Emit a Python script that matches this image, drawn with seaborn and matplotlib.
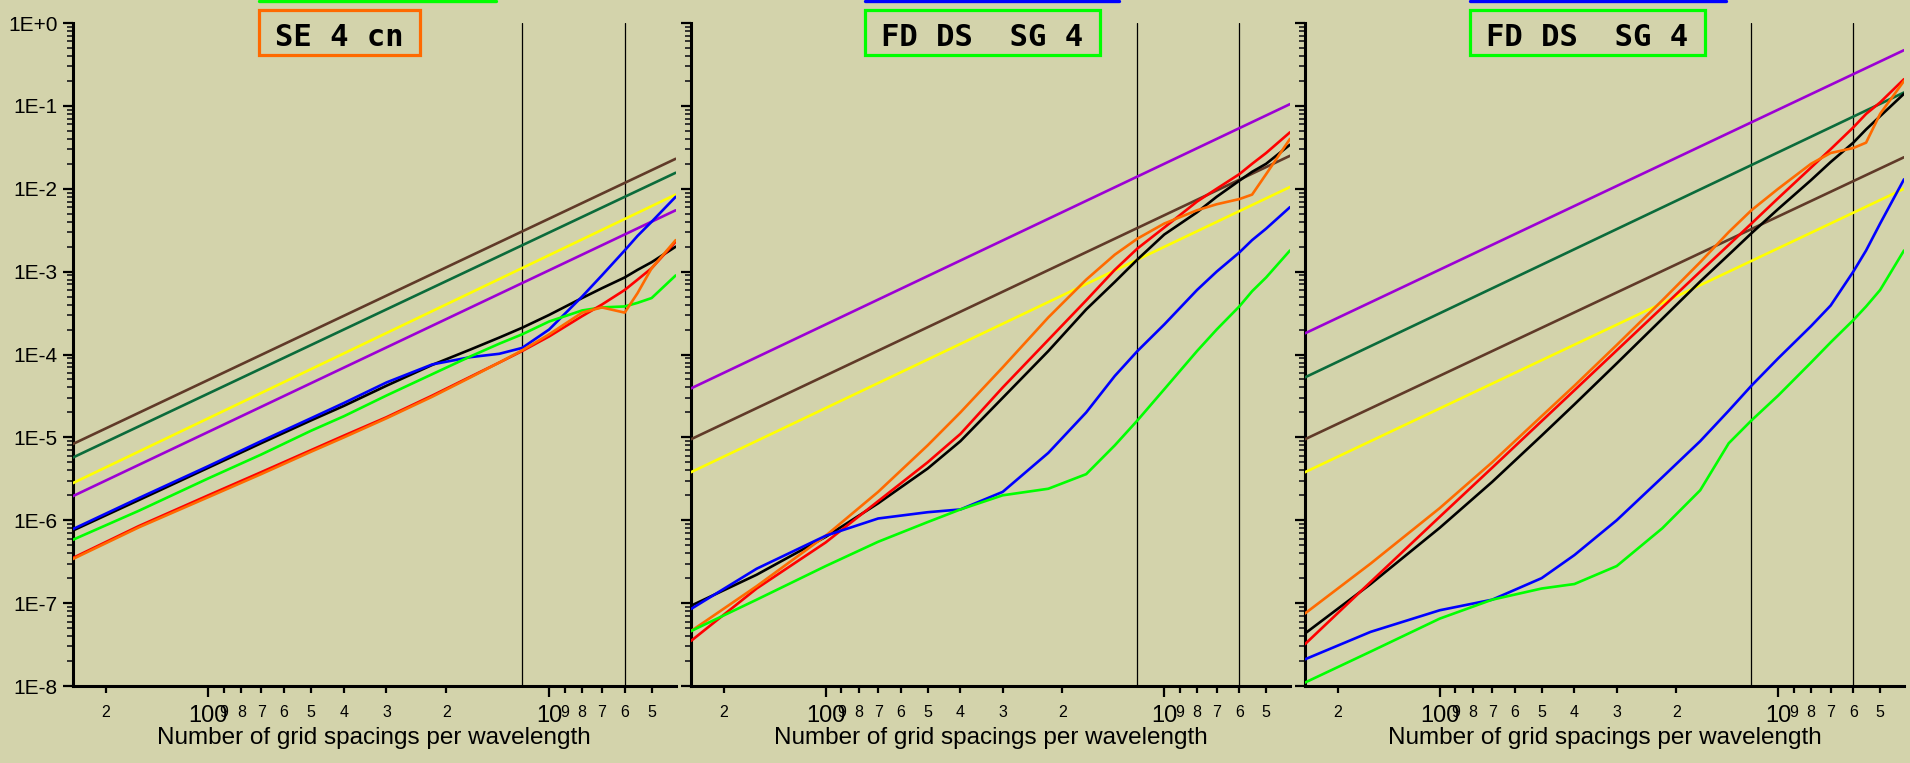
import matplotlib
matplotlib.use("Agg")
import matplotlib.pyplot as plt
from matplotlib.lines import Line2D
from matplotlib.patches import Rectangle
from matplotlib.ticker import FixedLocator, FixedFormatter, LogLocator, NullFormatter
import pandas as pd
import seaborn as sns

sns.set_style("ticks")
plt.rcParams["font.family"] = ["Liberation Sans", "DejaVu Sans"]

BG = "#D3D3AB"

# grid spacings per wavelength at which the curved error series are sampled
N_CURVE = [250, 160, 100, 70, 50, 40, 30, 22, 17, 14, 12, 10, 8, 7, 6, 5.5, 5, 4.25]
# end points of the straight (power-law) series
N_EDGE = [250, 4.25]

# ---- panel 1: SE 4 cn ----
p1_brown = [8.3e-6, 2.3e-2]
p1_dkgreen = [5.7e-6, 1.56e-2]
p1_yellow = [2.8e-6, 8.5e-3]
p1_purple = [1.95e-6, 5.5e-3]
p1_black = [7.5e-7, 1.75e-6, 4.3e-6, 8.5e-6, 1.6e-5, 2.4e-5, 4.2e-5, 7.5e-5, 1.15e-4,
            1.6e-4, 2.1e-4, 3.0e-4, 4.8e-4, 6.3e-4, 8.5e-4, 1.05e-3, 1.3e-3, 2.0e-3]
p1_blue = [7.8e-7, 1.85e-6, 4.5e-6, 9e-6, 1.7e-5, 2.6e-5, 4.6e-5, 7.6e-5, 9.3e-5,
           1.02e-4, 1.2e-4, 2.0e-4, 5.0e-4, 9e-4, 1.8e-3, 2.7e-3, 4.0e-3, 8e-3]
p1_green = [5.8e-7, 1.3e-6, 3.2e-6, 6.2e-6, 1.2e-5, 1.8e-5, 3.2e-5, 5.8e-5, 9.5e-5,
            1.35e-4, 1.75e-4, 2.5e-4, 3.4e-4, 3.7e-4, 3.8e-4, 4.2e-4, 4.8e-4, 9e-4]
p1_red = [3.5e-7, 8.5e-7, 2.0e-6, 3.8e-6, 7.0e-6, 1.05e-5, 1.75e-5, 3.2e-5, 5.4e-5,
          8.0e-5, 1.1e-4, 1.65e-4, 2.9e-4, 4.0e-4, 6.0e-4, 8e-4, 1.1e-3, 2.3e-3]
p1_orange = [3.4e-7, 8.2e-7, 1.9e-6, 3.6e-6, 6.7e-6, 1.0e-5, 1.7e-5, 3.1e-5, 5.3e-5,
             8.0e-5, 1.12e-4, 1.75e-4, 3.2e-4, 3.7e-4, 3.2e-4, 5.5e-4, 1.1e-3, 2.4e-3]

# ---- panel 2: FD DS SG 4 ----
p2_purple = [3.9e-5, 1.05e-1]
p2_brown = [9.5e-6, 2.5e-2]
p2_yellow = [3.8e-6, 1.05e-2]
p2_black = [9.3e-8, 2.2e-7, 6.3e-7, 1.6e-6, 4.2e-6, 9e-6, 3e-5, 1.1e-4, 3.5e-4,
            7.5e-4, 1.4e-3, 2.8e-3, 5.2e-3, 8.0e-3, 1.25e-2, 1.6e-2, 2.0e-2, 3.4e-2]
p2_red = [3.5e-8, 1.5e-7, 5.4e-7, 1.7e-6, 5e-6, 1.1e-5, 4.0e-5, 1.5e-4, 4.5e-4,
          1.05e-3, 1.9e-3, 3.4e-3, 7.0e-3, 1.0e-2, 1.5e-2, 2.0e-2, 2.7e-2, 4.8e-2]
p2_orange = [4.6e-8, 1.6e-7, 6.5e-7, 2.2e-6, 8e-6, 2e-5, 7e-5, 2.8e-4, 8e-4,
             1.6e-3, 2.5e-3, 3.8e-3, 5.5e-3, 6.5e-3, 7.5e-3, 8.5e-3, 1.5e-2, 4.0e-2]
p2_blue = [8.5e-8, 2.6e-7, 6.5e-7, 1.05e-6, 1.25e-6, 1.35e-6, 2.2e-6, 6.5e-6, 2.0e-5,
           5.5e-5, 1.1e-4, 2.3e-4, 6e-4, 1.0e-3, 1.7e-3, 2.4e-3, 3.3e-3, 6e-3]
p2_green = [4.6e-8, 1.1e-7, 2.8e-7, 5.5e-7, 9.5e-7, 1.35e-6, 2.0e-6, 2.4e-6, 3.6e-6,
            8e-6, 1.6e-5, 3.8e-5, 1.1e-4, 2.0e-4, 3.8e-4, 5.8e-4, 8.5e-4, 1.8e-3]

# ---- panel 3: FD DS SG 4 ----
p3_purple = [1.8e-4, 4.7e-1]
p3_dkgreen = [5.3e-5, 1.45e-1]
p3_brown = [9.5e-6, 2.4e-2]
p3_yellow = [3.8e-6, 1.0e-2]
p3_black = [4.3e-8, 1.7e-7, 8.1e-7, 2.9e-6, 1.05e-5, 2.5e-5, 7.8e-5, 2.7e-4, 7.6e-4,
            1.6e-3, 2.9e-3, 5.7e-3, 1.27e-2, 2.1e-2, 3.6e-2, 5.2e-2, 7.5e-2, 1.4e-1]
p3_red = [3.2e-8, 1.8e-7, 1.1e-6, 4.3e-6, 1.57e-5, 3.7e-5, 1.12e-4, 3.7e-4, 1.0e-3,
          2.1e-3, 3.8e-3, 7.7e-3, 1.8e-2, 3.0e-2, 5.5e-2, 8e-2, 1.1e-1, 2.1e-1]
p3_orange = [7.5e-8, 3.0e-7, 1.4e-6, 5e-6, 1.8e-5, 4.2e-5, 1.3e-4, 4.5e-4, 1.3e-3,
             3.0e-3, 5.5e-3, 1.0e-2, 2.0e-2, 2.7e-2, 3.1e-2, 3.6e-2, 8e-2, 2.0e-1]
p3_blue = [2.1e-8, 4.5e-8, 8.2e-8, 1.1e-7, 2.0e-7, 3.8e-7, 1.0e-6, 3.3e-6, 9e-6,
           2.1e-5, 4.2e-5, 9e-5, 2.2e-4, 3.9e-4, 1.0e-3, 1.8e-3, 3.8e-3, 1.3e-2]
p3_green = [1.1e-8, 2.6e-8, 6.5e-8, 1.1e-7, 1.5e-7, 1.7e-7, 2.8e-7, 8e-7, 2.3e-6,
            8.5e-6, 1.6e-5, 3.2e-5, 8e-5, 1.4e-4, 2.6e-4, 3.8e-4, 6e-4, 1.8e-3]

COLORS = {
    "brown": "#603A28", "dkgreen": "#0B6B3B", "yellow": "#FFFF00",
    "purple": "#9C00D4", "black": "#000000", "blue": "#0000FF",
    "green": "#00FF00", "red": "#FF0000", "orange": "#FF6A00",
}

PANELS = [
    {"title": "SE 4 cn", "box": "#FF6A00", "top": "#00FF00",
     "straight": {"brown": p1_brown, "dkgreen": p1_dkgreen, "yellow": p1_yellow, "purple": p1_purple},
     "curved": {"black": p1_black, "blue": p1_blue, "green": p1_green, "red": p1_red, "orange": p1_orange}},
    {"title": "FD DS  SG 4", "box": "#00FF00", "top": "#0000FF",
     "straight": {"purple": p2_purple, "brown": p2_brown, "yellow": p2_yellow},
     "curved": {"black": p2_black, "red": p2_red, "orange": p2_orange, "blue": p2_blue, "green": p2_green}},
    {"title": "FD DS  SG 4", "box": "#00FF00", "top": "#0000FF",
     "straight": {"purple": p3_purple, "dkgreen": p3_dkgreen, "brown": p3_brown, "yellow": p3_yellow},
     "curved": {"black": p3_black, "red": p3_red, "orange": p3_orange, "blue": p3_blue, "green": p3_green}},
]

# figure-pixel geometry (1910 x 763)
W, H = 1910.0, 763.0
AX_LEFT = [72.7, 691.0, 1305.0]
AX_WIDTH = [603.0, 599.0, 599.0]
AX_BOTTOM, AX_TOP = 686.0, 23.0
BOX_X = [(259, 420), (865, 1100), (1470, 1705)]
TOPLINE_X = [(259, 496), (865, 1119), (1470, 1726)]

MAJOR_X = [100, 10]
MAJOR_X_LABELS = ["100", "10"]
MINOR_X = [200, 90, 80, 70, 60, 50, 40, 30, 20, 9, 8, 7, 6, 5]
MINOR_X_LABELS = ["2", "9", "8", "7", "6", "5", "4", "3", "2", "9", "8", "7", "6", "5"]
MAJOR_Y = [1e0, 1e-1, 1e-2, 1e-3, 1e-4, 1e-5, 1e-6, 1e-7, 1e-8]
MAJOR_Y_LABELS = ["1E+0", "1E-1", "1E-2", "1E-3", "1E-4", "1E-5", "1E-6", "1E-7", "1E-8"]
MARKERS_N = [12, 6]

TICK_FONT = ["Liberation Sans Narrow", "Liberation Sans", "DejaVu Sans"]

fig = plt.figure(figsize=(19.1, 7.63), dpi=100)
fig.patch.set_facecolor(BG)

for i, panel in enumerate(PANELS):
    ax = fig.add_axes([AX_LEFT[i] / W, 1 - AX_BOTTOM / H, AX_WIDTH[i] / W, (AX_BOTTOM - AX_TOP) / H])
    ax.set_facecolor(BG)

    rows = []
    for name, vals in panel["straight"].items():
        for n, v in zip(N_EDGE, vals):
            rows.append((name, n, v))
    for name, vals in panel["curved"].items():
        for n, v in zip(N_CURVE, vals):
            rows.append((name, n, v))
    df = pd.DataFrame(rows, columns=["series", "N", "err"])

    for n in MARKERS_N:
        ax.axvline(n, color="black", lw=0.9, zorder=1)

    sns.lineplot(data=df, x="N", y="err", hue="series", palette=COLORS,
                 estimator=None, sort=False, legend=False, lw=1.9, ax=ax, zorder=3)

    ax.set_xscale("log")
    ax.set_yscale("log")
    ax.set_xlim(250, 4.25)
    ax.set_ylim(1e-8, 1e0)

    ax.xaxis.set_major_locator(FixedLocator(MAJOR_X))
    ax.xaxis.set_major_formatter(FixedFormatter(MAJOR_X_LABELS))
    ax.xaxis.set_minor_locator(FixedLocator(MINOR_X))
    ax.xaxis.set_minor_formatter(FixedFormatter(MINOR_X_LABELS))
    ax.tick_params(axis="x", which="major", direction="out", length=8, width=1.6,
                   labelsize=17, pad=6, colors="black")
    ax.tick_params(axis="x", which="minor", direction="out", length=5, width=1.6,
                   labelsize=11.5, pad=9, colors="black")

    ax.yaxis.set_major_locator(FixedLocator(MAJOR_Y))
    if i == 0:
        ax.yaxis.set_major_formatter(FixedFormatter(MAJOR_Y_LABELS))
    else:
        ax.yaxis.set_major_formatter(NullFormatter())
    ax.yaxis.set_minor_locator(LogLocator(base=10, subs=range(2, 10), numticks=20))
    ax.yaxis.set_minor_formatter(NullFormatter())
    ax.tick_params(axis="y", which="major", direction="out", length=7, width=1.6,
                   labelsize=15, pad=4, colors="black")
    ax.tick_params(axis="y", which="minor", direction="out", length=4.5, width=1.3)
    for lab in ax.get_xticklabels(which="both") + ax.get_yticklabels():
        lab.set_fontfamily(TICK_FONT)

    for side in ("top", "right"):
        ax.spines[side].set_visible(False)
    for side in ("left", "bottom"):
        ax.spines[side].set_linewidth(2.2)
        ax.spines[side].set_color("black")

    ax.set_xlabel("Number of grid spacings per wavelength", fontsize=17.5, color="black")
    ax.set_ylabel("")
    ax.xaxis.set_label_coords(0.5, -0.0784)
    ax.xaxis.label.set_va("center")

    # framed panel title
    x0, x1 = BOX_X[i]
    fig.patches.append(Rectangle((x0 / W, 1 - 55 / H), (x1 - x0) / W, 45 / H,
                                 transform=fig.transFigure, fill=False,
                                 edgecolor=panel["box"], lw=2.3, zorder=5))
    fig.text((x0 + x1) / 2 / W, 1 - 46 / H, panel["title"], family="DejaVu Sans Mono",
             weight="bold", size=22, ha="center", va="baseline", color="black")

    # coloured strip along the top edge
    t0, t1 = TOPLINE_X[i]
    fig.add_artist(Line2D([t0 / W, t1 / W], [1 - 1 / H, 1 - 1 / H], transform=fig.transFigure,
                          color=panel["top"], lw=2.4))

fig.savefig("out.png", dpi=100, facecolor=BG)
